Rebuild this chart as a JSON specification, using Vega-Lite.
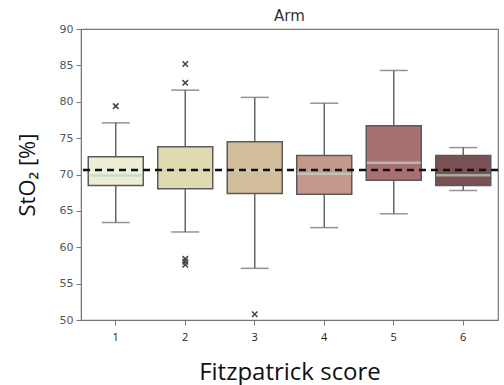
{
  "$schema": "https://vega.github.io/schema/vega-lite/v6.json",
  "width": 417,
  "height": 291,
  "autosize": {"type": "none"},
  "padding": {"left": 81, "top": 29, "right": 6, "bottom": 65},
  "background": "white",
  "title": {"text": "Arm", "font": "DejaVu Sans", "fontSize": 15, "fontWeight": "normal", "color": "#333", "offset": -1},
  "config": {
    "view": {"stroke": "#777", "strokeWidth": 1.2},
    "axis": {"grid": false, "domainColor": "#777", "tickColor": "#777", "labelColor": "#555", "labelFont": "DejaVu Sans", "labelFontSize": 11, "titleFont": "Open Sans", "titleFontWeight": "normal", "titleColor": "#111", "titleFontSize": 22, "labelOverlap": false}
  },
  "datasets": {
    "stats": [
      {"score": "1", "lower": 63.4, "q1": 68.5, "median": 69.85, "q3": 72.45, "upper": 77.1},
      {"score": "2", "lower": 62.1, "q1": 68.05, "median": 70.6, "q3": 73.8, "upper": 81.6},
      {"score": "3", "lower": 57.1, "q1": 67.4, "median": 70.5, "q3": 74.5, "upper": 80.6},
      {"score": "4", "lower": 62.7, "q1": 67.3, "median": 70.1, "q3": 72.6, "upper": 79.8},
      {"score": "5", "lower": 64.6, "q1": 69.2, "median": 71.6, "q3": 76.7, "upper": 84.3},
      {"score": "6", "lower": 67.8, "q1": 68.5, "median": 69.9, "q3": 72.6, "upper": 73.7}
    ],
    "outliers": [
      {"score": "1", "value": 79.4},
      {"score": "2", "value": 85.2},
      {"score": "2", "value": 82.6},
      {"score": "2", "value": 58.4},
      {"score": "2", "value": 58.0},
      {"score": "2", "value": 57.6},
      {"score": "3", "value": 50.8}
    ],
    "ref": [{"mean": 70.63}]
  },
  "layer": [
    {
      "data": {"name": "stats"},
      "mark": {"type": "rule", "color": "#666", "strokeWidth": 1.5},
      "encoding": {
        "x": {"field": "score", "type": "ordinal", "scale": {"type": "band", "domain": ["1","2","3","4","5","6"], "paddingInner": 0, "paddingOuter": 0}, "axis": {"title": "Fitzpatrick score", "labelAngle": 0, "labelPadding": 6, "tickSize": 5, "titlePadding": 18, "titleFontSize": 24, "labelFont": "Open Sans", "labelColor": "#222", "labelFontSize": 11}},
        "y": {"field": "lower", "type": "quantitative", "scale": {"domain": [50, 90], "nice": false, "zero": false}, "axis": {"title": "StO₂ [%]", "values": [50,55,60,65,70,75,80,85,90], "tickCount": 9, "labelOverlap": false, "tickSize": 5, "labelPadding": 3, "titlePadding": 20}},
        "y2": {"field": "upper"}
      }
    },
    {
      "data": {"name": "stats"},
      "mark": {"type": "tick", "color": "#666", "size": 28, "thickness": 1.5},
      "encoding": {
        "x": {"field": "score", "type": "ordinal"},
        "y": {"field": "lower", "type": "quantitative"}
      }
    },
    {
      "data": {"name": "stats"},
      "mark": {"type": "tick", "color": "#666", "size": 28, "thickness": 1.5},
      "encoding": {
        "x": {"field": "score", "type": "ordinal"},
        "y": {"field": "upper", "type": "quantitative"}
      }
    },
    {
      "data": {"name": "stats"},
      "mark": {"type": "bar", "size": 55, "stroke": "#5a5a5a", "strokeWidth": 1.5, "opacity": 1},
      "encoding": {
        "x": {"field": "score", "type": "ordinal"},
        "y": {"field": "q1", "type": "quantitative"},
        "y2": {"field": "q3"},
        "fill": {"field": "score", "type": "ordinal", "scale": {"domain": ["1","2","3","4","5","6"], "range": ["#eeedd6", "#e0dab0", "#d2bd9c", "#c4998c", "#a87070", "#7a5052"]}, "legend": null}
      }
    },
    {
      "data": {"name": "stats"},
      "mark": {"type": "tick", "color": "#b6d6cc", "size": 54, "thickness": 2.5},
      "encoding": {
        "x": {"field": "score", "type": "ordinal"},
        "y": {"field": "median", "type": "quantitative"}
      }
    },
    {
      "data": {"name": "outliers"},
      "mark": {"type": "point", "shape": "M-1,-1L1,1M-1,1L1,-1", "filled": false, "stroke": "#444", "strokeWidth": 1.5, "size": 30, "opacity": 1},
      "encoding": {
        "x": {"field": "score", "type": "ordinal"},
        "y": {"field": "value", "type": "quantitative"}
      }
    },
    {
      "data": {"name": "ref"},
      "mark": {"type": "rule", "color": "#111", "strokeWidth": 2.5, "strokeDash": [7, 5]},
      "encoding": {
        "y": {"field": "mean", "type": "quantitative"}
      }
    }
  ]
}
